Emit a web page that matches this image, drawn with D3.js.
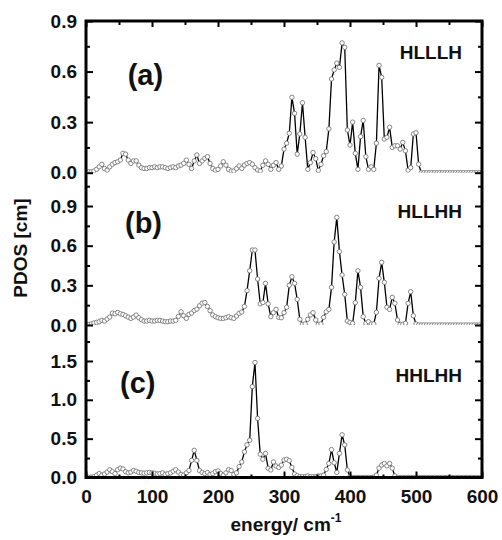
<!DOCTYPE html>
<html>
<head>
<meta charset="utf-8">
<script src="https://cdn.jsdelivr.net/npm/d3@7"></script>
<style>
  body { margin: 0; background: #fff; }
  svg text { font-family: "Liberation Sans", Arial, Helvetica, sans-serif; font-weight: bold; fill: #111; }
</style>
</head>
<body>
<div id="chart"></div>
<script>
// energy grid (cm^-1), one point every 4 cm^-1
const energy = d3.range(0, 601, 4);
const energyTicks = [0, 100, 200, 300, 400, 500, 600];
const energyMinor = [50, 150, 250, 350, 450, 550];

const panelLabels = ["(a)", "(b)", "(c)"];
const configLabels = ["HLLLH", "HLLHH", "HHLHH"];
const yMax = [0.9, 1.152, 1.963];
const yTicks = [[0, 0.3, 0.6, 0.9], [0, 0.3, 0.6, 0.9], [0, 0.5, 1.0, 1.5]];
const yMinor = [[0.15, 0.45, 0.75], [0.15, 0.45, 0.75, 1.05], [0.25, 0.75, 1.25, 1.75]];

const pdosA = [
  0, 0.005, 0.005, 0.01, 0.02, 0.035, 0.05, 0.025, 0.015, 0.035,
  0.05, 0.06, 0.065, 0.075, 0.115, 0.11, 0.075, 0.055, 0.07, 0.07,
  0.045, 0.03, 0.025, 0.025, 0.03, 0.03, 0.035, 0.03, 0.035, 0.035,
  0.03, 0.025, 0.03, 0.035, 0.03, 0.04, 0.045, 0.055, 0.075, 0.05,
  0.025, 0.07, 0.105, 0.055, 0.07, 0.085, 0.095, 0.055, 0.025, 0.015,
  0.02, 0.04, 0.065, 0.045, 0.02, 0.01, 0.01, 0.025, 0.04, 0.025,
  0.045, 0.055, 0.06, 0.05, 0.03, 0.016, 0.01, 0.044, 0.07, 0.05,
  0.02, 0.044, 0.06, 0.02, 0.04, 0.14, 0.175, 0.234, 0.447, 0.352,
  0.11, 0.23, 0.415, 0.21, 0.02, 0.06, 0.12, 0.083, 0.014, 0.05,
  0.1, 0.125, 0.26, 0.556, 0.61, 0.65, 0.625, 0.77, 0.744, 0.253,
  0.164, 0.3, 0.115, 0.02, 0.214, 0.31, 0.095, 0.02, 0.035, 0.02,
  0.175, 0.637, 0.566, 0.2, 0.21, 0.27, 0.15, 0.16, 0.16, 0.14,
  0.18, 0.13, 0.015, 0.03, 0.23, 0.237, 0.05, 0, 0, 0,
  0, 0, 0, 0, 0, 0, 0, 0, 0, 0,
  0, 0, 0, 0, 0, 0, 0, 0, 0, 0,
  0
];

const pdosB = [
  0, 0.003, 0.008, 0.015, 0.02, 0.025, 0.035, 0.03, 0.045, 0.06,
  0.09, 0.085, 0.095, 0.085, 0.08, 0.07, 0.06, 0.05, 0.06, 0.075,
  0.055, 0.04, 0.03, 0.03, 0.035, 0.03, 0.03, 0.035, 0.035, 0.03,
  0.025, 0.025, 0.03, 0.03, 0.035, 0.065, 0.1, 0.07, 0.05, 0.08,
  0.09, 0.11, 0.12, 0.145, 0.165, 0.17, 0.14, 0.108, 0.076, 0.063,
  0.055, 0.05, 0.05, 0.055, 0.063, 0.055, 0.05, 0.068, 0.088, 0.098,
  0.14, 0.26, 0.41, 0.567, 0.567, 0.348, 0.16, 0.17, 0.315, 0.16,
  0.063, 0.093, 0.118, 0.058, 0.055, 0.093, 0.134, 0.3, 0.365, 0.315,
  0.194, 0.043, 0.005, 0.008, 0.043, 0.076, 0.093, 0.038, 0.005, 0.008,
  0.058, 0.1, 0.118, 0.285, 0.628, 0.814, 0.555, 0.378, 0.232, 0.03,
  0.02, 0.013, 0.169, 0.41, 0.285, 0.063, 0.013, 0.025, 0.008, 0.008,
  0.096, 0.353, 0.474, 0.323, 0.134, 0.118, 0.209, 0.164, 0.038, 0.005,
  0.005, 0.013, 0.164, 0.252, 0.07, 0.008, 0, 0, 0, 0,
  0, 0, 0, 0, 0, 0, 0, 0, 0, 0,
  0, 0, 0, 0, 0, 0, 0, 0, 0, 0,
  0
];

const pdosC = [
  0, 0.003, 0.005, 0.01, 0.03, 0.05, 0.03, 0.045, 0.07, 0.1,
  0.075, 0.05, 0.1, 0.12, 0.11, 0.075, 0.06, 0.07, 0.09, 0.08,
  0.065, 0.06, 0.055, 0.06, 0.065, 0.06, 0.055, 0.045, 0.05, 0.06,
  0.04, 0.05, 0.06, 0.08, 0.1, 0.07, 0.04, 0.03, 0.06, 0.09,
  0.22, 0.35, 0.22, 0.09, 0.065, 0.05, 0.065, 0.04, 0.05, 0.075,
  0.085, 0.05, 0.03, 0.06, 0.1, 0.09, 0.04, 0.06, 0.14, 0.2,
  0.33, 0.42, 0.48, 1.17, 1.48, 0.76, 0.3, 0.236, 0.31, 0.118,
  0.097, 0.2, 0.148, 0.13, 0.16, 0.225, 0.234, 0.217, 0.13, 0.045,
  0.024, 0.01, 0.01, 0.01, 0.02, 0.01, 0.01, 0.01, 0.02, 0.02,
  0.03, 0.105, 0.18, 0.36, 0.19, 0.066, 0.31, 0.55, 0.42, 0.097,
  0.01, 0, 0, 0, 0, 0, 0, 0, 0, 0.005,
  0.03, 0.12, 0.16, 0.18, 0.15, 0.18, 0.12, 0.02, 0, 0,
  0, 0, 0, 0, 0, 0, 0, 0, 0, 0,
  0, 0, 0, 0, 0, 0, 0, 0, 0, 0,
  0, 0, 0, 0, 0, 0, 0, 0, 0, 0,
  0
];

const series = [pdosA, pdosB, pdosC];

// layout
const width = 502, height = 540;
const left = 86, right = 482;
const edges = [21, 172.7, 325, 477.5];   // panel boundaries (top of a ... bottom of c)
const panelLabelPos = [[127.7, 84.5], [125, 233.3], [120, 393.3]];
const configLabelY = [59.3, 218, 382.3];

const svg = d3.select("#chart")
  .append("svg")
    .attr("width", width)
    .attr("height", height);

const x = d3.scaleLinear().domain([0, 600]).range([left, right]);

const line = d3.line()
  .x(d => x(d.e))
  .y(d => d.yv);

series.forEach((vals, i) => {
  const y = d3.scaleLinear().domain([0, yMax[i]]).range([edges[i + 1], edges[i]]);
  const pts = vals.map((v, k) => ({ e: energy[k], v: v, yv: y(v) }));

  // clip each panel at its zero line
  svg.append("clipPath").attr("id", `clip${i}`)
    .append("rect")
      .attr("x", left).attr("y", edges[i])
      .attr("width", right - left).attr("height", y(0) - edges[i]);

  const g = svg.append("g").attr("clip-path", `url(#clip${i})`);

  g.append("path")
    .datum(pts)
    .attr("fill", "none")
    .attr("stroke", "#000")
    .attr("stroke-width", 1.3)
    .attr("d", line);

  g.selectAll("circle")
    .data(pts)
    .join("circle")
      .attr("cx", d => x(d.e))
      .attr("cy", d => d.yv)
      .attr("r", 2.2)
      .attr("fill", "#fff")
      .attr("stroke", "#777")
      .attr("stroke-width", 0.9);

  // left axis, major + minor (ticks inward)
  svg.append("g")
    .attr("transform", `translate(${left},0)`)
    .call(d3.axisLeft(y).tickValues(yTicks[i]).tickSize(-7).tickPadding(9).tickFormat(d3.format(".1f")))
    .call(a => a.select(".domain").remove())
    .call(a => a.selectAll("line").attr("stroke-width", 2))
    .call(a => a.selectAll("text").style("font-size", "19px"));

  svg.append("g")
    .attr("transform", `translate(${left},0)`)
    .call(d3.axisLeft(y).tickValues(yMinor[i]).tickSize(-4).tickFormat(""))
    .call(a => a.select(".domain").remove())
    .call(a => a.selectAll("line").attr("stroke-width", 2));

  // right axis
  svg.append("g")
    .attr("transform", `translate(${right},0)`)
    .call(d3.axisRight(y).tickValues(yTicks[i]).tickSize(-7).tickFormat(""))
    .call(a => a.select(".domain").remove())
    .call(a => a.selectAll("line").attr("stroke-width", 2));

  svg.append("g")
    .attr("transform", `translate(${right},0)`)
    .call(d3.axisRight(y).tickValues(yMinor[i]).tickSize(-4).tickFormat(""))
    .call(a => a.select(".domain").remove())
    .call(a => a.selectAll("line").attr("stroke-width", 2));

  svg.append("text")
    .attr("x", panelLabelPos[i][0])
    .attr("y", panelLabelPos[i][1])
    .style("font-size", "29px")
    .text(panelLabels[i]);

  svg.append("text")
    .attr("x", 462)
    .attr("y", configLabelY[i])
    .attr("text-anchor", "end")
    .style("font-size", "19px")
    .text(configLabels[i]);
});

// bottom axis
svg.append("g")
  .attr("transform", `translate(0,${edges[3]})`)
  .call(d3.axisBottom(x).tickValues(energyTicks).tickSize(-6).tickPadding(12).tickFormat(d3.format("d")))
  .call(a => a.select(".domain").remove())
  .call(a => a.selectAll("line").attr("stroke-width", 2))
  .call(a => a.selectAll("text").style("font-size", "19px"));

svg.append("g")
  .attr("transform", `translate(0,${edges[3]})`)
  .call(d3.axisBottom(x).tickValues(energyMinor).tickSize(-3).tickFormat(""))
  .call(a => a.select(".domain").remove())
  .call(a => a.selectAll("line").attr("stroke-width", 2));

// top axis
svg.append("g")
  .attr("transform", `translate(0,${edges[0]})`)
  .call(d3.axisTop(x).tickValues(energyTicks).tickSize(-6).tickFormat(""))
  .call(a => a.select(".domain").remove())
  .call(a => a.selectAll("line").attr("stroke-width", 2));

svg.append("g")
  .attr("transform", `translate(0,${edges[0]})`)
  .call(d3.axisTop(x).tickValues(energyMinor).tickSize(-4).tickFormat(""))
  .call(a => a.select(".domain").remove())
  .call(a => a.selectAll("line").attr("stroke-width", 2));

// frame
svg.append("rect")
  .attr("x", left)
  .attr("y", edges[0])
  .attr("width", right - left)
  .attr("height", edges[3] - edges[0])
  .attr("fill", "none")
  .attr("stroke", "#000")
  .attr("stroke-width", 3);

// axis titles
svg.append("text")
  .attr("transform", `translate(26.5,248) rotate(-90)`)
  .attr("text-anchor", "middle")
  .style("font-size", "19px")
  .text("PDOS [cm]");

const xt = svg.append("text")
  .attr("x", 286)
  .attr("y", 531)
  .attr("text-anchor", "middle")
  .style("font-size", "19px")
  .text("energy/ cm");
xt.append("tspan")
  .attr("dy", -9)
  .style("font-size", "12px")
  .text("-1");
</script>
</body>
</html>
